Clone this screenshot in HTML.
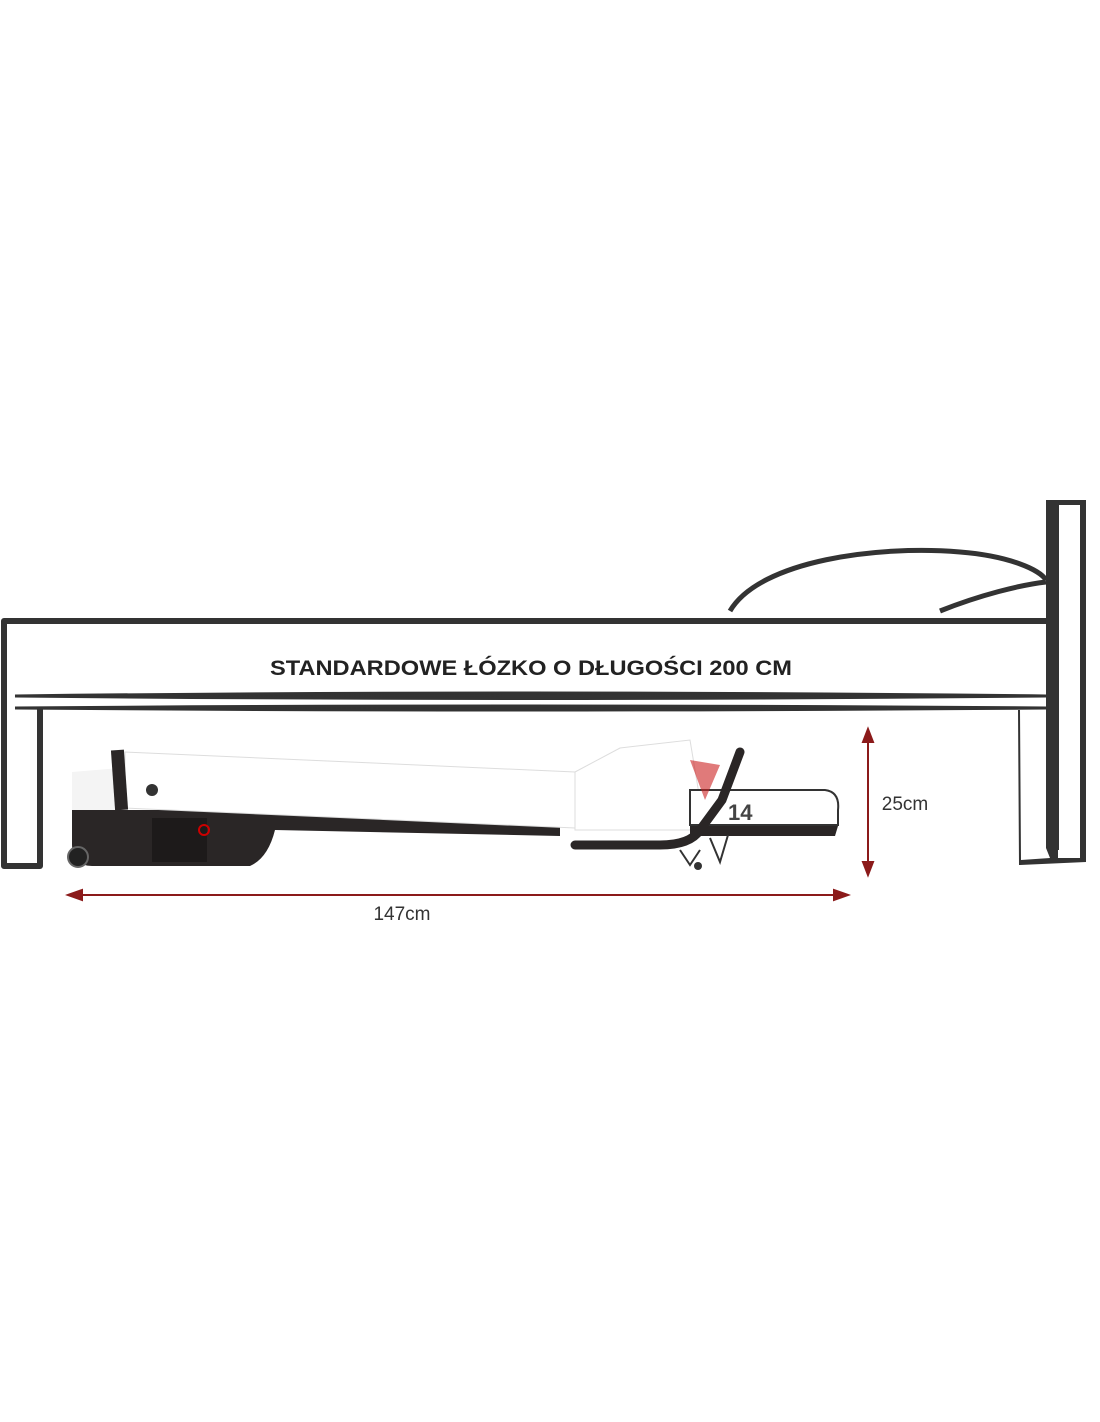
<!DOCTYPE html>
<html><head><meta charset="utf-8"><style>
html,body{margin:0;padding:0;background:#fff;}
svg{display:block}
text{font-family:"Liberation Sans",sans-serif;}
</style></head><body>
<svg width="1100" height="1422" viewBox="0 0 1100 1422" xmlns="http://www.w3.org/2000/svg">
<rect width="1100" height="1422" fill="#fff"/>
<g fill="none" stroke="#333" stroke-width="6" stroke-linejoin="round">
  <path d="M1046 621 L4 621 L4 866 L40 866 L40 708"/>
  <path d="M730 611 C 760 560, 880 545, 960 552 C 1010 556, 1040 570, 1046 580" stroke-width="5"/>
  <path d="M940 611 C 980 595, 1020 585, 1046 582" stroke-width="5"/>
</g>
<!-- headboard -->
<path d="M1046 500 L1086 500 L1086 862 L1020 865 L1019 865 L1018 710 L1020 710 L1021 860 L1050 858 L1046 848 Z" fill="#333"/>
<rect x="1058" y="505" width="22" height="353" fill="#fff"/>
<path d="M1058 505 L1058 850" stroke="#333" stroke-width="2"/>
<!-- mattress lines -->
<path d="M15 696 Q 520 690 1046 696 Q 520 701 15 696 Z" fill="#333" stroke="#333" stroke-width="3"/>
<path d="M15 708 Q 520 704 1046 708 Q 520 712 15 708 Z" fill="#333" stroke="#333" stroke-width="3"/>
<text x="270" y="675" font-size="21" font-weight="bold" fill="#222" textLength="522" lengthAdjust="spacingAndGlyphs">STANDARDOWE ŁÓZKO O DŁUGOŚCI 200 CM</text>
<!-- treadmill -->
<g>
  <path d="M72 772 L120 768 L120 812 L72 812 Z" fill="#f4f4f4"/>
  <path d="M72 810 L200 810 L560 826 L560 836 L275 830 Q268 858 250 866 L92 866 Q72 866 72 845 Z" fill="#2a2626"/>
  <circle cx="78" cy="857" r="10" fill="#222" stroke="#666" stroke-width="2"/>
  <path d="M125 752 L575 772 L575 828 L125 808 Z" fill="#fff" stroke="#ddd" stroke-width="1"/>
  <path d="M575 772 L620 748 L690 740 L700 800 L690 830 L575 830 Z" fill="#fff" stroke="#ddd" stroke-width="1"/>
  <rect x="113" y="750" width="13" height="60" fill="#2a2626" transform="rotate(-4 119 780)"/>
  <circle cx="152" cy="790" r="6" fill="#333"/>
  <rect x="152" y="818" width="55" height="44" fill="#1d1a1a"/>
  <circle cx="204" cy="830" r="5" fill="none" stroke="#c00" stroke-width="2"/>
  <path d="M690 790 L825 790 Q840 792 838 810 L838 825 L690 825 Z" fill="#fff" stroke="#333" stroke-width="2"/>
  <path d="M690 826 L838 826 L835 836 L690 836 Z" fill="#2a2626"/>
  <text x="728" y="820" font-size="22" font-weight="bold" fill="#444">14</text>
  <path d="M740 752 L722 800 L700 830 Q690 845 660 845 L575 845" fill="none" stroke="#2a2626" stroke-width="9" stroke-linecap="round"/>
  <path d="M690 760 L720 765 L705 800 Z" fill="#c22" opacity="0.6"/>
  <path d="M680 850 L690 865 L700 850 M710 838 L720 862 L728 835" stroke="#333" stroke-width="2" fill="none"/>
  <circle cx="698" cy="866" r="4" fill="#333"/>
</g>
<g stroke="#8b1a1a" stroke-width="2" fill="#8b1a1a">
  <line x1="868" y1="738" x2="868" y2="866"/>
  <path d="M868 729 L863 742 L873 742 Z"/>
  <path d="M868 875 L863 862 L873 862 Z"/>
  <line x1="78" y1="895" x2="838" y2="895"/>
  <path d="M68 895 L82 890 L82 900 Z"/>
  <path d="M848 895 L834 890 L834 900 Z"/>
</g>
<text x="905" y="810" text-anchor="middle" font-size="19" fill="#333">25cm</text>
<text x="402" y="920" text-anchor="middle" font-size="19" fill="#333">147cm</text>
</svg>
</body></html>
